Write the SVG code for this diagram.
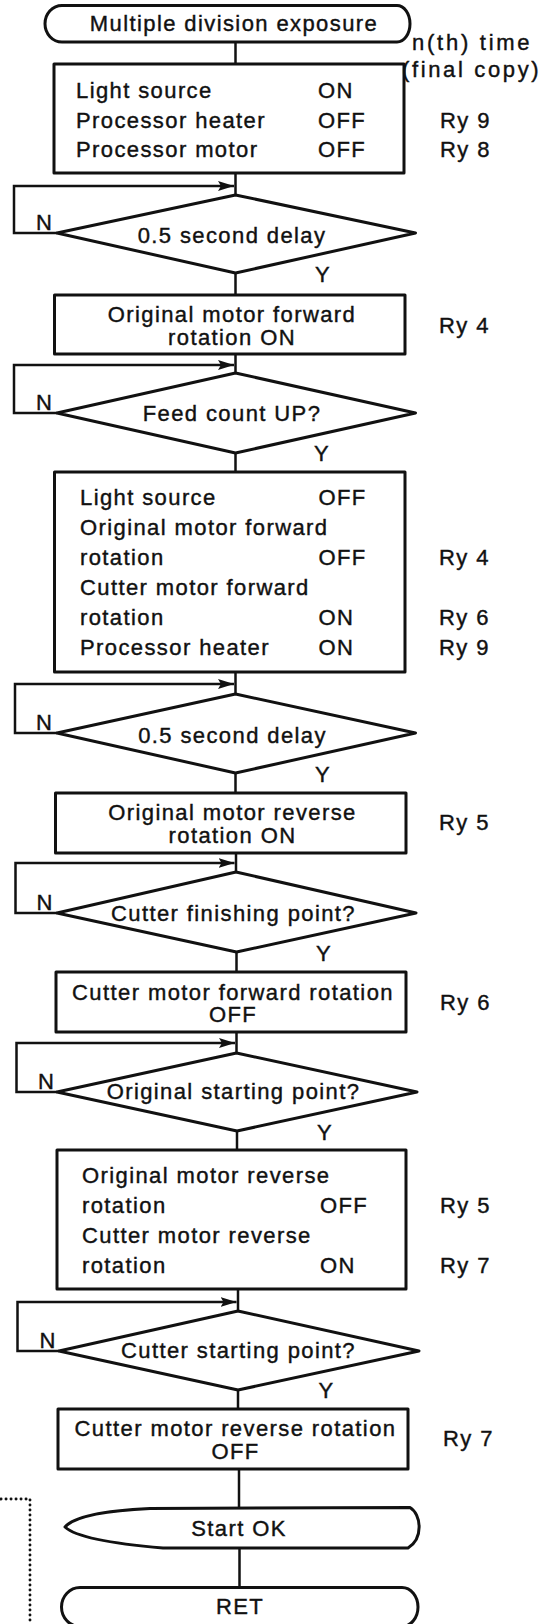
<svg xmlns="http://www.w3.org/2000/svg" width="543" height="1624" viewBox="0 0 543 1624">
<style>
text{font-family:"Liberation Sans",Arial,Helvetica,sans-serif;font-size:22px;letter-spacing:1.4px;fill:#111;stroke:#111;stroke-width:0.4}
.c{text-anchor:middle}
.shape{fill:#fff;stroke:#111;stroke-width:3;stroke-linejoin:round}
.ln{fill:none;stroke:#111;stroke-width:2.5}
.dot{fill:none;stroke:#111;stroke-width:2.9;stroke-linecap:round;stroke-dasharray:0.1 4.9}
</style>
<defs>
<marker id="ah" markerUnits="userSpaceOnUse" markerWidth="17" markerHeight="11" viewBox="0 -5.5 17 11" refX="16" refY="0" orient="auto">
<path d="M0,-5 L16,0 L0,5 L3,0 Z" fill="#111"/>
</marker>
</defs>
<g id="connectors">
<path class="ln" d="M235.5 42 V64"/>
<path class="ln" d="M235.5 173 V195"/>
<path class="ln" d="M57 233 H14 V186 H234" marker-end="url(#ah)"/>
<path class="ln" d="M235.5 273 V295"/>
<path class="ln" d="M235.5 354 V373"/>
<path class="ln" d="M57 413 H14 V365 H234" marker-end="url(#ah)"/>
<path class="ln" d="M235.5 453 V472"/>
<path class="ln" d="M235.5 672 V694"/>
<path class="ln" d="M57 733 H15 V684 H234" marker-end="url(#ah)"/>
<path class="ln" d="M235.5 773 V793"/>
<path class="ln" d="M236 853 V872"/>
<path class="ln" d="M57 913 H15.5 V863 H234.5" marker-end="url(#ah)"/>
<path class="ln" d="M236.5 952 V972"/>
<path class="ln" d="M236.5 1032 V1053"/>
<path class="ln" d="M57 1092 H16.5 V1043 H235" marker-end="url(#ah)"/>
<path class="ln" d="M237 1131 V1150"/>
<path class="ln" d="M238 1289 V1311"/>
<path class="ln" d="M59 1351 H17.5 V1302 H236.5" marker-end="url(#ah)"/>
<path class="ln" d="M238 1390 V1409"/>
<path class="ln" d="M239 1469 V1508"/>
<path class="ln" d="M239.5 1548 V1588"/>
<path class="dot" d="M1 1499 H30 V1624"/>
</g>
<g id="start">
<path class="shape" d="M62 5.5 H397 A13 18.25 0 0 1 397 42 H62 A17 18.25 0 0 1 62 5.5 Z"/>
<text class="c" x="234" y="31">Multiple division exposure</text>
</g>
<g id="box1">
<rect class="shape" x="54" y="64" width="350" height="109"/>
<text x="76" y="98">Light source</text>
<text x="318" y="98">ON</text>
<text x="76" y="128">Processor heater</text>
<text x="318" y="128">OFF</text>
<text x="76" y="157">Processor motor</text>
<text x="318" y="157">OFF</text>
<text x="440" y="128">Ry 9</text>
<text x="440" y="157">Ry 8</text>
</g>
<g id="note">
<text x="412" y="50" textLength="119" lengthAdjust="spacing">n(th) time</text>
<text x="402" y="77" textLength="138" lengthAdjust="spacing">(final copy)</text>
</g>
<g id="dec1">
<polygon class="shape" points="57,233 235.5,195 415.5,233 235.5,273"/>
<text class="c" x="232" y="243">0.5 second delay</text>
<text x="36" y="230">N</text>
<text x="315" y="282">Y</text>
</g>
<g id="box2">
<rect class="shape" x="54.5" y="295" width="350.5" height="59"/>
<text class="c" x="232" y="322">Original motor forward</text>
<text class="c" x="232" y="345">rotation ON</text>
<text x="439" y="333">Ry 4</text>
</g>
<g id="dec2">
<polygon class="shape" points="57,413 235.5,373 415.5,413 235.5,453"/>
<text class="c" x="232" y="421">Feed count UP?</text>
<text x="36" y="410">N</text>
<text x="314" y="461">Y</text>
</g>
<g id="box3">
<rect class="shape" x="54.5" y="472" width="350.5" height="200"/>
<text x="80" y="505">Light source</text>
<text x="318.5" y="505">OFF</text>
<text x="80" y="535">Original motor forward</text>
<text x="80" y="565">rotation</text>
<text x="318.5" y="565">OFF</text>
<text x="80" y="595">Cutter motor forward</text>
<text x="80" y="625">rotation</text>
<text x="318.5" y="625">ON</text>
<text x="80" y="655">Processor heater</text>
<text x="318.5" y="655">ON</text>
<text x="439" y="565">Ry 4</text>
<text x="439" y="625">Ry 6</text>
<text x="439" y="655">Ry 9</text>
</g>
<g id="dec3">
<polygon class="shape" points="57,733 235.5,694 415.5,733 235.5,773"/>
<text class="c" x="232.5" y="743">0.5 second delay</text>
<text x="36" y="730">N</text>
<text x="315" y="782">Y</text>
</g>
<g id="box4">
<rect class="shape" x="55.5" y="793" width="350.5" height="60"/>
<text class="c" x="232.5" y="820">Original motor reverse</text>
<text class="c" x="232.5" y="843">rotation ON</text>
<text x="439" y="830">Ry 5</text>
</g>
<g id="dec4">
<polygon class="shape" points="57,913 236,872 416,913 236.5,952"/>
<text class="c" x="233.5" y="921">Cutter finishing point?</text>
<text x="36.5" y="910">N</text>
<text x="316" y="961">Y</text>
</g>
<g id="box5">
<rect class="shape" x="56" y="972" width="350" height="60"/>
<text class="c" x="233" y="1000">Cutter motor forward rotation</text>
<text class="c" x="233" y="1022">OFF</text>
<text x="440" y="1010">Ry 6</text>
</g>
<g id="dec5">
<polygon class="shape" points="57,1092 236.5,1053 417,1092 237,1131"/>
<text class="c" x="233.5" y="1099">Original starting point?</text>
<text x="38" y="1089">N</text>
<text x="317" y="1140">Y</text>
</g>
<g id="box6">
<rect class="shape" x="57" y="1150" width="349" height="139"/>
<text x="82" y="1183">Original motor reverse</text>
<text x="82" y="1213">rotation</text>
<text x="320" y="1213">OFF</text>
<text x="82" y="1243">Cutter motor reverse</text>
<text x="82" y="1273">rotation</text>
<text x="320" y="1273">ON</text>
<text x="440" y="1213">Ry 5</text>
<text x="440" y="1273">Ry 7</text>
</g>
<g id="dec6">
<polygon class="shape" points="59,1351 238,1311 419,1351 238,1390"/>
<text class="c" x="238.5" y="1358">Cutter starting point?</text>
<text x="39.5" y="1348">N</text>
<text x="318.5" y="1398">Y</text>
</g>
<g id="box7">
<rect class="shape" x="58" y="1409" width="350" height="60"/>
<text class="c" x="235.5" y="1436">Cutter motor reverse rotation</text>
<text class="c" x="235.5" y="1459">OFF</text>
<text x="443" y="1446">Ry 7</text>
</g>
<g id="startok">
<path class="shape" d="M150 1508.5 L410 1507.5 C421 1514 424 1538 408 1548 L163 1548 Q80 1541 65 1527 Q78 1512 150 1508.5 Z"/>
<text class="c" x="239" y="1536">Start OK</text>
</g>
<g id="ret">
<path class="shape" d="M80 1587.5 H402 A16 19.5 0 0 1 402 1626.5 H80 A18.5 19.5 0 0 1 80 1587.5 Z"/>
<text class="c" x="240" y="1614">RET</text>
</g>
</svg>
